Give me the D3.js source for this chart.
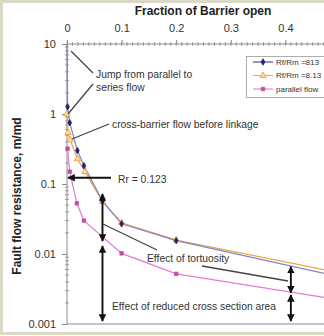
<!DOCTYPE html>
<html>
<head>
<meta charset="utf-8">
<script src="https://cdn.jsdelivr.net/npm/d3@7"></script>
<style>
  html, body { margin: 0; padding: 0; background: #fff; }
  svg { display: block; font-family: "Liberation Sans", Arial, sans-serif; }
</style>
</head>
<body>
<svg id="chart" width="324" height="336"></svg>
<script>
// Fraction of barrier open (x) against fault flow resistance (y, log scale)
const seriesNames = ["Rf/Rm =813", "Rf/Rm =8.13", "parallel flow"];

const blueX = [0, 0.001, 0.005, 0.019, 0.031, 0.065, 0.1, 0.2, 0.5];
const blueY = [10, 1.27, 0.75, 0.30, 0.183, 0.057, 0.027, 0.0155, 0.0047];

const orangeX = [0, 0.002, 0.006, 0.019, 0.033, 0.065, 0.1, 0.2, 0.5];
const orangeY = [1.0, 0.54, 0.425, 0.228, 0.15, 0.056, 0.028, 0.0158, 0.0054];

const pinkX = [0.001, 0.005, 0.018, 0.031, 0.1, 0.2, 0.5];
const pinkY = [0.32, 0.15, 0.053, 0.030, 0.0102, 0.0052, 0.0022];

const xTicks = [0, 0.1, 0.2, 0.3, 0.4];
const yTicks = [10, 1, 0.1, 0.01, 0.001];
const yTickLabels = ["10", "1", "0.1", "0.01", "0.001"];

const rrValue = 0.123;

const svg = d3.select("#chart");

// frame
svg.append("rect").attr("x", 1.5).attr("y", 1.5).attr("width", 330).attr("height", 332)
  .attr("fill", "#fff").attr("stroke", "#dcd8c6").attr("stroke-width", 3);

const x = d3.scaleLinear().domain([0, 0.5]).range([67, 340]);
const y = d3.scaleLog().domain([0.001, 10]).range([324, 44]);

const axisColor = "#8a8a8a";

// plot border lines (top, left, bottom)
svg.append("line").attr("x1", x(0)).attr("x2", 340).attr("y1", y(10)).attr("y2", y(10))
  .attr("stroke", axisColor);
svg.append("line").attr("x1", x(0)).attr("x2", 340).attr("y1", y(0.001)).attr("y2", y(0.001))
  .attr("stroke", axisColor);
svg.append("line").attr("x1", x(0)).attr("x2", x(0)).attr("y1", y(10)).attr("y2", y(0.001))
  .attr("stroke", axisColor);

// top axis
const topAxis = d3.axisTop(x).tickValues(xTicks).tickFormat(d3.format("")).tickSize(4).tickPadding(8);
const gx = svg.append("g").attr("transform", `translate(0,${y(10)})`).call(topAxis);
gx.select(".domain").remove();
gx.selectAll(".tick line").attr("stroke", axisColor);
gx.selectAll(".tick text").attr("font-size", 11).attr("fill", "#333");
// minor ticks on top axis
const xMinor = d3.range(0, 0.5001, 0.01);
svg.append("g").selectAll("line").data(xMinor).join("line")
  .attr("x1", d => x(d)).attr("x2", d => x(d))
  .attr("y1", y(10) - 2).attr("y2", y(10) + 2)
  .attr("stroke", axisColor).attr("stroke-width", 0.8);

// left axis
const leftAxis = d3.axisLeft(y).tickValues(yTicks)
  .tickFormat((d, i) => yTickLabels[i]).tickSize(5).tickPadding(6);
const gy = svg.append("g").attr("transform", `translate(${x(0)},0)`).call(leftAxis);
gy.select(".domain").remove();
gy.selectAll(".tick line").attr("stroke", axisColor);
gy.selectAll(".tick text").attr("font-size", 11).attr("fill", "#333");
const yMinor = [];
[0.001, 0.01, 0.1, 1].forEach(b => { for (let k = 2; k <= 9; k++) yMinor.push(b * k); });
svg.append("g").selectAll("line").data(yMinor).join("line")
  .attr("x1", x(0) - 2).attr("x2", x(0) + 2)
  .attr("y1", d => y(d)).attr("y2", d => y(d))
  .attr("stroke", axisColor).attr("stroke-width", 0.8);

// titles
svg.append("text").attr("x", 203).attr("y", 15).attr("text-anchor", "middle")
  .attr("font-size", 12).attr("font-weight", "bold").attr("fill", "#222")
  .text("Fraction of Barrier open");
svg.append("text").attr("transform", "translate(21,196) rotate(-90)").attr("text-anchor", "middle")
  .attr("font-size", 12).attr("font-weight", "bold").attr("fill", "#222")
  .text("Fault flow resistance, m/md");

// series
const clip = svg.append("clipPath").attr("id", "plotclip").append("rect")
  .attr("x", x(0) - 6).attr("y", y(10)).attr("width", 300).attr("height", y(0.001) - y(10));
const plot = svg.append("g").attr("clip-path", "url(#plotclip)");

const series = [
  { name: seriesNames[0], xs: blueX, ys: blueY, line: "#7b86cc", mark: "#23236e", fill: "#23236e", shape: d3.symbolDiamond },
  { name: seriesNames[1], xs: orangeX, ys: orangeY, line: "#f2a543", mark: "#f29a2e", fill: "#fbd9a8", shape: d3.symbolTriangle },
  { name: seriesNames[2], xs: pinkX, ys: pinkY, line: "#e27ad8", mark: "#c0509c", fill: "#c0509c", shape: d3.symbolSquare }
];
const symSize = s => (s.shape === d3.symbolTriangle ? 18 : 12);

const lineGen = d3.line().x(d => x(d[0])).y(d => y(d[1]));
series.slice().reverse().forEach(s => {
  const pts = s.xs.map((v, i) => [v, s.ys[i]]);
  plot.append("path").datum(pts).attr("d", lineGen)
    .attr("fill", "none").attr("stroke", s.line).attr("stroke-width", 1.2);
});
// markers for points inside the plotted range (the top edge point is the frame itself)
series.slice().reverse().forEach(s => {
  const pts = s.xs.map((v, i) => [v, s.ys[i]]).filter(d => d[1] < 10);
  plot.append("g").selectAll("path").data(pts).join("path")
    .attr("transform", d => `translate(${x(d[0])},${y(d[1])})`)
    .attr("d", d3.symbol().type(s.shape).size(symSize(s)))
    .attr("fill", s.fill).attr("stroke", s.mark).attr("stroke-width", 0.8);
});

// legend
const lg = svg.append("g");
lg.append("rect").attr("x", 246.5).attr("y", 56.5).attr("width", 90).attr("height", 41)
  .attr("fill", "#fff").attr("stroke", "#9a9a9a").attr("stroke-width", 0.8);
series.forEach((s, i) => {
  const yy = 62 + i * 13.5;
  lg.append("line").attr("x1", 253).attr("x2", 273).attr("y1", yy).attr("y2", yy)
    .attr("stroke", i === 0 ? "#3b3f90" : s.line).attr("stroke-width", 1.1);
  lg.append("path").attr("transform", `translate(263,${yy})`)
    .attr("d", d3.symbol().type(s.shape).size(symSize(s)))
    .attr("fill", s.fill).attr("stroke", s.mark).attr("stroke-width", 0.8);
  lg.append("text").attr("x", 276).attr("y", yy + 2.8).attr("font-size", 8).attr("fill", "#333")
    .text(s.name);
});

// annotations
const ann = svg.append("g").attr("fill", "#333").attr("font-size", 10.3);
const defs = svg.append("defs");
defs.append("marker").attr("id", "ah").attr("viewBox", "0 0 10 10").attr("refX", 9).attr("refY", 5)
  .attr("markerWidth", 4).attr("markerHeight", 4).attr("orient", "auto-start-reverse")
  .append("path").attr("d", "M0,0 L10,5 L0,10 Z").attr("fill", "#111");

function pointer(x1, y1, x2, y2) {
  ann.append("line").attr("x1", x1).attr("y1", y1).attr("x2", x2).attr("y2", y2)
    .attr("stroke", "#444").attr("stroke-width", 1.3);
}
function arrow(x1, y1, x2, y2, both) {
  const l = ann.append("line").attr("x1", x1).attr("y1", y1).attr("x2", x2).attr("y2", y2)
    .attr("stroke", "#111").attr("stroke-width", 1.9).attr("marker-end", "url(#ah)");
  if (both) l.attr("marker-start", "url(#ah)");
}

ann.append("text").attr("x", 96).attr("y", 78).text("Jump from parallel to");
ann.append("text").attr("x", 96).attr("y", 91).text("series flow");
pointer(71, 51, 93, 73);
pointer(93, 84, 68, 114);

ann.append("text").attr("x", 112).attr("y", 128).text("cross-barrier flow before linkage");
pointer(109, 124, 72, 139);

ann.append("text").attr("x", 118).attr("y", 183).text("Rr = 0.123");
arrow(111, y(rrValue), x(0) + 1, y(rrValue), false);

// double arrows between curves and down to the axis
arrow(x(0.065), y(0.0153), x(0.065), y(0.072), true);
arrow(x(0.065), y(0.013), x(0.065), y(0.0011), true);
arrow(x(0.41), y(0.0028), x(0.41), y(0.0066), true);
arrow(x(0.41), y(0.0026), x(0.41), y(0.0011), true);

ann.append("text").attr("x", 147).attr("y", 262).text("Effect of tortuosity");
pointer(103, 224, 157, 250);
pointer(202, 266, 288, 281);

ann.append("text").attr("x", 112).attr("y", 310).text("Effect of reduced cross section area");
</script>
</body>
</html>
